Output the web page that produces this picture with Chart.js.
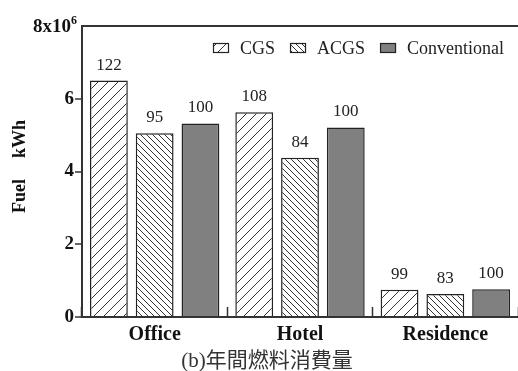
<!DOCTYPE html>
<html lang="ja">
<head>
<meta charset="UTF-8">
<title>年間燃料消費量</title>
<style>
  html, body { margin: 0; padding: 0; background: #fff; }
  canvas { display: block; }
</style>
</head>
<body>
<canvas id="fuelChart" width="518" height="371"></canvas>
<script src="https://cdn.jsdelivr.net/npm/chart.js"></script>
<script>
const categories = ['Office', 'Hotel', 'Residence'];
const seriesNames = ['CGS', 'ACGS', 'Conventional'];
// annual fuel consumption, x10^6 kWh
const cgsFuel = [6.50, 5.63, 0.75];
const acgsFuel = [5.05, 4.38, 0.63];
const conventionalFuel = [5.32, 5.21, 0.76];
// ratio to the conventional system, %
const cgsRatio = [122, 108, 99];
const acgsRatio = [95, 84, 83];
const conventionalRatio = [100, 100, 100];
const yTicks = [0, 2, 4, 6, 8];

const SERIF = "'Liberation Serif', 'Times New Roman', serif";
const INK = '#222';

const canvas = document.getElementById('fuelChart');
const ctx = canvas.getContext('2d');

// diagonal hatch fill: dir 1 = "/", dir -1 = "\"
function hatch(step, dir) {
  const c = document.createElement('canvas');
  c.width = step;
  c.height = step;
  const g = c.getContext('2d');
  g.fillStyle = '#fff';
  g.fillRect(0, 0, step, step);
  g.strokeStyle = '#333';
  g.lineWidth = 1;
  g.beginPath();
  if (dir > 0) {
    g.moveTo(-1, step + 1); g.lineTo(step + 1, -1);
    g.moveTo(-1, 1); g.lineTo(1, -1);
    g.moveTo(step - 1, step + 1); g.lineTo(step + 1, step - 1);
  } else {
    g.moveTo(-1, -1); g.lineTo(step + 1, step + 1);
    g.moveTo(step - 1, -1); g.lineTo(step + 1, 1);
    g.moveTo(-1, step - 1); g.lineTo(1, step + 1);
  }
  g.stroke();
  return ctx.createPattern(c, 'repeat');
}

const fills = [hatch(10, 1), hatch(6, -1), '#808080'];

// ratio labels, legend, exponent, axis title and caption
const extras = {
  id: 'extras',
  afterDatasetsDraw(chart) {
    const c = chart.ctx;
    c.save();
    c.font = '17px ' + SERIF;
    c.fillStyle = INK;
    c.textAlign = 'center';
    c.textBaseline = 'alphabetic';
    chart.data.datasets.forEach((ds, i) => {
      chart.getDatasetMeta(i).data.forEach((bar, j) => {
        c.fillText(String(ds.ratio[j]), bar.x, bar.y - 11);
      });
    });
    c.restore();
  },
  afterDraw(chart) {
    const c = chart.ctx;
    const y = chart.scales.y;
    c.save();

    // legend inside the plot, top right
    c.font = '18px ' + SERIF;
    c.textBaseline = 'alphabetic';
    c.textAlign = 'left';
    let x = 213;
    chart.data.datasets.forEach(ds => {
      c.fillStyle = ds.backgroundColor;
      c.fillRect(x, 43, 16, 10);
      c.strokeStyle = INK;
      c.lineWidth = 1.2;
      c.strokeRect(x + 0.5, 43.5, 15, 9);
      x += 27;
      c.fillStyle = INK;
      c.fillText(ds.label, x, 53.5);
      x += c.measureText(ds.label).width + 15;
    });

    // top tick label with exponent
    const top = y.getPixelForValue(8);
    c.fillStyle = '#111';
    c.textAlign = 'right';
    c.font = 'bold 12px ' + SERIF;
    c.fillText('6', 77, top - 2);
    const w6 = c.measureText('6').width;
    c.font = 'bold 19px ' + SERIF;
    c.fillText('8x10', 77 - w6, top + 6);

    // vertical axis title
    c.save();
    c.translate(25, 0);
    c.rotate(-Math.PI / 2);
    c.font = 'bold 18px ' + SERIF;
    c.textAlign = 'left';
    c.fillText('Fuel', -213, 0);
    c.textAlign = 'right';
    c.fillText('kWh', -120, 0);
    c.restore();

    // caption
    c.font = "21px 'Liberation Serif', 'Noto Sans CJK JP', serif";
    c.fillStyle = '#333';
    c.textAlign = 'center';
    c.textBaseline = 'middle';
    c.fillText('(b)年間燃料消費量', 267, 361);
    c.restore();
  }
};

new Chart(ctx, {
  type: 'bar',
  data: {
    labels: categories,
    datasets: [
      { label: seriesNames[0], data: cgsFuel, ratio: cgsRatio, backgroundColor: fills[0] },
      { label: seriesNames[1], data: acgsFuel, ratio: acgsRatio, backgroundColor: fills[1] },
      { label: seriesNames[2], data: conventionalFuel, ratio: conventionalRatio, backgroundColor: fills[2] }
    ]
  },
  options: {
    responsive: false,
    animation: false,
    layout: { padding: { top: 26, right: -2, bottom: 0, left: 0 } },
    datasets: {
      bar: {
        barPercentage: 0.826,
        categoryPercentage: 0.945,
        borderColor: INK,
        borderWidth: 1.5
      }
    },
    plugins: {
      legend: { display: false },
      tooltip: { enabled: false }
    },
    scales: {
      x: {
        afterFit: s => { s.height = 54; },
        grid: {
          drawOnChartArea: false,
          offset: true,
          tickLength: -10,
          tickColor: '#333',
          tickWidth: 1.5
        },
        border: { color: '#333', width: 2 },
        ticks: {
          font: { family: SERIF, size: 20, weight: 'bold' },
          color: '#111',
          padding: 16
        }
      },
      y: {
        min: 0,
        max: 8,
        afterFit: s => { s.width = 82; },
        afterBuildTicks: s => { s.ticks = yTicks.map(v => ({ value: v })); },
        grid: {
          color: c => (c.tick && c.tick.value === 8 ? '#333' : 'rgba(0,0,0,0)'),
          lineWidth: 2,
          tickLength: 7,
          tickColor: c => (c.tick && c.tick.value === 8 ? 'rgba(0,0,0,0)' : '#333'),
          tickWidth: 1.5
        },
        border: { color: '#333', width: 2 },
        ticks: {
          callback: v => (v === 8 ? '' : v),
          font: { family: SERIF, size: 19, weight: 'bold' },
          color: '#111',
          padding: 1
        }
      }
    }
  },
  plugins: [extras]
});
</script>
</body>
</html>
